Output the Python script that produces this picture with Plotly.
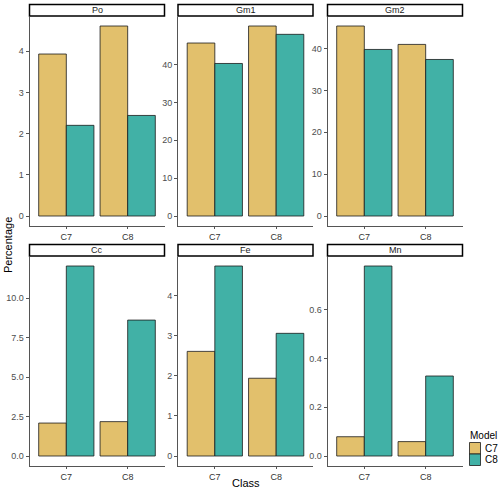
import plotly.graph_objects as go

classes = ["C7", "C8"]
models = ["C7", "C8"]
panels = ["Po", "Gm1", "Gm2", "Cc", "Fe", "Mn"]
# values per panel: C7-model values over classes, C8-model values over classes
po_c7 = [3.93, 4.61]
po_c8 = [2.20, 2.44]
gm1_c7 = [45.7, 50.2]
gm1_c8 = [40.3, 48.0]
gm2_c7 = [45.4, 41.0]
gm2_c8 = [39.8, 37.4]
cc_c7 = [2.09, 2.18]
cc_c8 = [12.05, 8.62]
fe_c7 = [2.61, 1.94]
fe_c8 = [4.74, 3.06]
mn_c7 = [0.079, 0.059]
mn_c8 = [0.779, 0.328]

ticks_po = [0, 1, 2, 3, 4]
ticks_gm1 = [0, 10, 20, 30, 40]
ticks_gm2 = [0, 10, 20, 30, 40]
ticks_cc = [0.0, 2.5, 5.0, 7.5, 10.0]
ticks_fe = [0, 1, 2, 3, 4]
ticks_mn = [0.0, 0.2, 0.4, 0.6]
tickfmt = ["", "", "", ".1f", "", ".1f"]

data = [(po_c7, po_c8), (gm1_c7, gm1_c8), (gm2_c7, gm2_c8),
        (cc_c7, cc_c8), (fe_c7, fe_c8), (mn_c7, mn_c8)]
ticks = [ticks_po, ticks_gm1, ticks_gm2, ticks_cc, ticks_fe, ticks_mn]

colors = {"C7": "#E2C06C", "C8": "#41B1A6"}

W, H = 500, 491
xs = [29.5, 178.0, 327.5]
pw = 135.0
rows = [(16.5, 225.5), (256.5, 465.5)]  # top, bottom in px from top
strip_h = 11.5
FONT = "Liberation Sans"

fig = go.Figure()
layout = dict()
TXT = "#4D4D4D"
for i, name in enumerate(panels):
    r, c = divmod(i, 3)
    n = i + 1
    xa = "x" if n == 1 else f"x{n}"
    ya = "y" if n == 1 else f"y{n}"
    vals = data[i]
    for m, v in zip(models, vals):
        fig.add_trace(go.Bar(
            x=classes, y=v, name=m,
            marker=dict(color=colors[m], line=dict(color="#1a1a1a", width=0.8)),
            xaxis=xa, yaxis=ya, showlegend=False))
    ymax = max(max(vals[0]), max(vals[1]))
    x0 = xs[c] / W
    x1 = (xs[c] + pw) / W
    top, bot = rows[r]
    y0 = (H - bot) / H
    y1 = (H - top) / H
    axkey = "xaxis" if n == 1 else f"xaxis{n}"
    aykey = "yaxis" if n == 1 else f"yaxis{n}"
    layout[axkey] = dict(domain=[x0, x1], anchor=ya, range=[-0.6, 1.6], type="category",
                         showline=True, linecolor="#555", linewidth=1, ticks="outside",
                         ticklen=2.5, tickcolor="#555", showgrid=False, zeroline=False,
                         tickfont=dict(size=9, color="#333", family=FONT))
    layout[aykey] = dict(domain=[y0, y1], anchor=xa, range=[-0.05 * ymax, 1.05 * ymax],
                         tickvals=ticks[i], tickformat=tickfmt[i],
                         showline=True, linecolor="#555", linewidth=1, ticks="outside",
                         ticklen=3, tickcolor="#555", showgrid=False, zeroline=False,
                         tickfont=dict(size=9, color=TXT, family=FONT))
    # strip
    fig.add_shape(type="rect", xref="paper", yref="paper",
                  x0=x0, x1=x1, y0=(H - top + 0.5) / H, y1=(H - top + 0.5 + strip_h) / H,
                  line=dict(color="black", width=1.5), fillcolor="white")
    fig.add_annotation(text=name, xref="paper", yref="paper", x=(x0 + x1) / 2,
                       y=(H - top + 0.5 + strip_h / 2) / H, showarrow=False,
                       font=dict(size=9, color="#1a1a1a", family=FONT),
                       xanchor="center", yanchor="middle")

fig.add_annotation(text="Percentage", xref="paper", yref="paper", x=8 / W, y=(H - 245) / H,
                   textangle=-90, showarrow=False, xanchor="center", yanchor="middle",
                   font=dict(size=11, color="black", family=FONT))
fig.add_annotation(text="Class", xref="paper", yref="paper", x=(xs[0] + xs[2] + pw) / 2 / W,
                   y=(H - 483) / H, showarrow=False, xanchor="center", yanchor="middle",
                   font=dict(size=11, color="black", family=FONT))

# legend drawn by hand
fig.add_annotation(text="Model", xref="paper", yref="paper", x=467.5 / W, y=(H - 435) / H,
                   showarrow=False, xanchor="left", yanchor="middle",
                   font=dict(size=10, color="black", family=FONT))
key_top = 442.5
key_h = 11.5
for k, m in enumerate(models):
    ty = key_top + k * key_h
    fig.add_shape(type="rect", xref="paper", yref="paper",
                  x0=469.5 / W, x1=480.5 / W, y0=(H - ty - key_h) / H, y1=(H - ty) / H,
                  line=dict(color="#1a1a1a", width=0.8), fillcolor=colors[m])
    fig.add_annotation(text=m, xref="paper", yref="paper", x=483 / W, y=(H - ty - key_h / 2) / H,
                       showarrow=False, xanchor="left", yanchor="middle",
                       font=dict(size=10, color="black", family=FONT))

fig.update_layout(
    width=W, height=H, margin=dict(l=0, r=0, t=0, b=0, autoexpand=False),
    paper_bgcolor="white", plot_bgcolor="white",
    barmode="group", bargap=0.1, bargroupgap=0,
    showlegend=False,
    **layout)

fig.write_html("out.html", config={"displayModeBar": False},
               post_script="document.body.style.margin='0';document.body.style.padding='0';"
                           "document.documentElement.style.overflow='hidden';")
